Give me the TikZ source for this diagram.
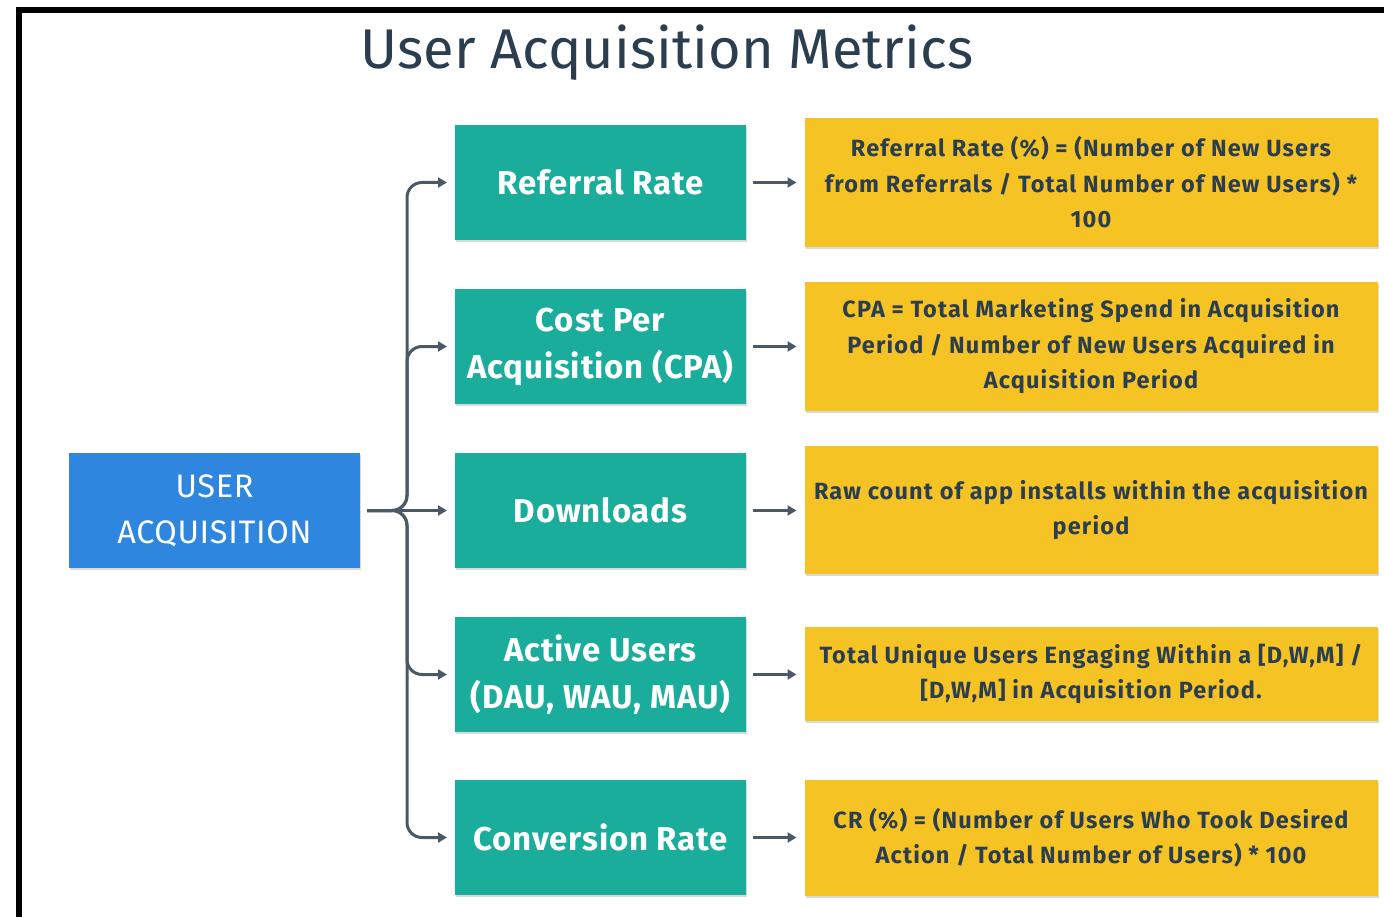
\documentclass[tikz,border=0pt]{standalone}
\usepackage{fontspec}
\setmainfont{Fira Sans}
\usetikzlibrary{arrows.meta,shadows}
\definecolor{inkcol}{HTML}{2B3E50}
\definecolor{wirecol}{HTML}{4B5967}
\definecolor{tealfill}{HTML}{1BAD9C}
\definecolor{yellowfill}{HTML}{F6C324}
\definecolor{bluefill}{HTML}{2E86DE}
\tikzset{
  box/.style={rectangle, inner sep=0pt, outer sep=0pt, align=center,
    drop shadow={shadow xshift=1pt, shadow yshift=-2pt, opacity=0.15, fill=black}},
  rootbox/.style={box, fill=bluefill, text=white, minimum width=291pt, minimum height=115pt,
    font=\fontsize{32.5}{46}\selectfont\addfontfeature{LetterSpace=2}},
  metricbox/.style={box, fill=tealfill, text=white, minimum width=291pt, minimum height=115pt,
    font=\bfseries\fontsize{33}{47}\selectfont\addfontfeature{LetterSpace=2.5}},
  formulabox/.style={box, fill=yellowfill, text=inkcol, minimum width=573pt,
    font=\bfseries\fontsize{23.5}{35.5}\selectfont\addfontfeature{LetterSpace=5}},
  wire/.style={draw=wirecol, line width=3pt, -{Triangle[length=9pt,width=10pt]}},
  branch/.style={wire, rounded corners=15pt},
}
\begin{document}
\begin{tikzpicture}[x=1pt,y=-1pt]
\useasboundingbox (0,0) rectangle (1384,917);
% frame edges
\fill[black] (16,7) rectangle (1384,13);
\fill[black] (16,7) rectangle (22,917);

% title
\node[text=inkcol, font=\fontsize{56}{60}\selectfont] (title) at (667,53) {User Acquisition Metrics};

% root
\node[rootbox] (root) at (214.5,510.5) {USER\\ACQUISITION};

% metric boxes
\node[metricbox] (m1) at (600.5,182.5) {Referral Rate};
\node[metricbox] (m2) at (600.5,346.5) {Cost Per\\Acquisition (CPA)};
\node[metricbox] (m3) at (600.5,510.5) {Downloads};
\node[metricbox] (m4) at (600.5,674.5) {Active Users\\(DAU, WAU, MAU)};
\node[metricbox] (m5) at (600.5,837.5) {Conversion Rate};

% formula boxes
\node[formulabox, minimum height=129pt] (f1) at (1091,182.5)
  {Referral Rate (\%) = (Number of New Users\\from Referrals / Total Number of New Users) *\\100};
\node[formulabox, minimum height=129pt] (f2) at (1091,346.5)
  {CPA = Total Marketing Spend in Acquisition\\Period / Number of New Users Acquired in\\Acquisition Period};
\node[formulabox, minimum height=128pt] (f3) at (1091,510)
  {Raw count of app installs within the acquisition\\period};
\node[formulabox, minimum height=94pt] (f4) at (1091,674)
  {Total Unique Users Engaging Within a [D,W,M] /\\{}[D,W,M] in Acquisition Period.};
\node[formulabox, minimum height=116pt] (f5) at (1091,838)
  {CR (\%) = (Number of Users Who Took Desired\\Action / Total Number of Users) * 100};

% branches from the root to each metric
\foreach \m in {m1,m2,m4,m5}{
  \draw[branch] ([xshift=7pt]root.east) -| ([xshift=-48pt]\m.west) -- ([xshift=-8pt]\m.west);
}
\draw[wire] ([xshift=7pt]root.east) -- ([xshift=-8pt]m3.west);

% metric to formula
\foreach \i in {1,...,5}{
  \draw[wire] ([xshift=7pt]m\i.east) -- ([xshift=-8pt]f\i.west |- m\i.east);
}
\end{tikzpicture}
\end{document}
